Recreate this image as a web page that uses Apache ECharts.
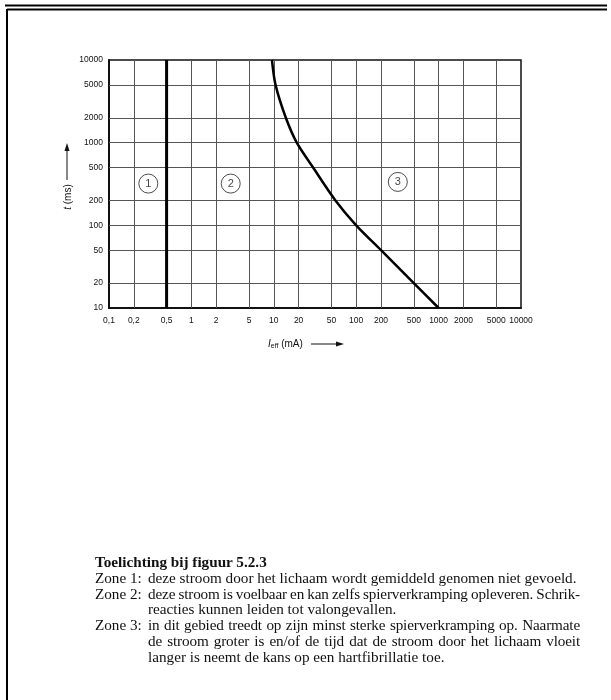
<!DOCTYPE html>
<html>
<head>
<meta charset="utf-8">
<script src="https://cdn.jsdelivr.net/npm/echarts@6/dist/echarts.min.js"></script>
<style>
  html, body { margin: 0; padding: 0; background: #fff; }
  #chart { position: absolute; left: 0; top: 0; width: 611px; height: 700px; }
  #notes { position: absolute; left: 95px; top: 554px; width: 485px;
           font-family: 'Liberation Serif', 'DejaVu Serif', serif; font-size: 15.2px;
           line-height: 15.8px; color: #111; }
  #notes .title { font-weight: bold; }
  #notes .row { display: flex; }
  #notes .lab { width: 53px; flex: none; white-space: nowrap; }
  #notes .txt { flex: 1; min-width: 0; }
  #notes .j { text-align: justify; text-align-last: justify; word-spacing: -4px; letter-spacing: -0.15px; }
  #notes .l { text-align: left; white-space: nowrap; }
</style>
</head>
<body>
<div id="chart"></div>
<div id="notes">
  <div class="title">Toelichting bij figuur 5.2.3</div>
  <div class="row"><div class="lab">Zone 1:</div><div class="txt"><div class="l">deze stroom door het lichaam wordt gemiddeld genomen niet gevoeld.</div></div></div>
  <div class="row"><div class="lab">Zone 2:</div><div class="txt"><div class="j">deze stroom is voelbaar en kan zelfs spierverkramping opleveren. Schrik-</div><div class="l">reacties kunnen leiden tot valongevallen.</div></div></div>
  <div class="row"><div class="lab">Zone 3:</div><div class="txt"><div class="j">in dit gebied treedt op zijn minst sterke spierverkramping op. Naarmate</div><div class="j">de stroom groter is en/of de tijd dat de stroom door het lichaam vloeit</div><div class="l">langer is neemt de kans op een hartfibrillatie toe.</div></div></div>
</div>
<script>
// ---- data ----
var xTicks = [0.1, 0.2, 0.5, 1, 2, 5, 10, 20, 50, 100, 200, 500, 1000, 2000, 5000, 10000];
var yTicks = [10, 20, 50, 100, 200, 500, 1000, 2000, 5000, 10000];
var zone1Boundary = [[0.5, 10], [0.5, 10000]];
var zone3BoundaryX = [9.5, 10.5, 14, 19, 30, 56, 100, 200, 500, 1000];
var zone3BoundaryY = [10000, 5000, 2000, 1000, 500, 200, 100, 50, 20, 10];
var zoneLabels = ['1', '2', '3'];
var zoneLabelX = [0.3, 3, 320];
var zoneLabelY = [320, 320, 335];

var curve = zone3BoundaryX.map(function (x, i) { return [x, zone3BoundaryY[i]]; });
var zones = zoneLabels.map(function (z, i) { return [zoneLabelX[i], zoneLabelY[i], z]; });

function fmt(v) {
  var s = String(Math.round(v * 10) / 10);
  return s.replace('.', ',');
}

var chart = echarts.init(document.getElementById('chart'), null, { renderer: 'canvas' });
var gridLineStyle = { color: '#555', width: 1, type: 'solid' };
var labelStyle = { fontFamily: 'Liberation Sans', fontSize: 8.5, color: '#111' };

chart.setOption({
  animation: false,
  backgroundColor: '#fff',
  grid: { left: 109, right: 90, top: 60, bottom: 392, show: true, borderColor: '#111', borderWidth: 1.5, backgroundColor: 'transparent' },
  xAxis: {
    type: 'log', logBase: 10, min: 0.1, max: 10000,
    axisLine: { show: true, lineStyle: { color: '#111', width: 2 } },
    axisTick: { show: false },
    splitLine: { show: false },
    minorSplitLine: { show: false },
    axisLabel: Object.assign({ customValues: xTicks, margin: 8, formatter: fmt, showMinLabel: true, showMaxLabel: true }, labelStyle)
  },
  yAxis: {
    type: 'log', logBase: 10, min: 10, max: 10000,
    axisLine: { show: true, lineStyle: { color: '#111', width: 2 } },
    axisTick: { show: false },
    splitLine: { show: false },
    axisLabel: Object.assign({ customValues: yTicks, margin: 6, formatter: fmt, showMinLabel: true, showMaxLabel: true }, labelStyle)
  },
  series: [
    {
      type: 'line', data: [], silent: true,
      markLine: {
        silent: true, symbol: 'none', label: { show: false },
        lineStyle: gridLineStyle,
        data: xTicks.slice(1, -1).map(function (v) { return { xAxis: v }; })
          .concat(yTicks.slice(1, -1).map(function (v) { return { yAxis: v }; }))
      }
    },
    {
      type: 'line', data: zone1Boundary, symbol: 'none',
      lineStyle: { color: '#000', width: 3 }, z: 5
    },
    {
      type: 'line', data: curve, symbol: 'none', smooth: 0.3,
      lineStyle: { color: '#000', width: 2.5 }, z: 5
    },
    {
      type: 'scatter', data: zones, symbol: 'circle', symbolSize: 19,
      itemStyle: { color: '#fff', borderColor: '#222', borderWidth: 1 },
      label: { show: true, position: 'inside', formatter: function (p) { return p.value[2]; },
               fontFamily: 'Liberation Sans', fontSize: 11, color: '#111' },
      z: 6
    }
  ],
  graphic: [
    { type: 'line', shape: { x1: 5, y1: 5.5, x2: 607, y2: 5.5 }, style: { stroke: '#000', lineWidth: 2 } },
    { type: 'line', shape: { x1: 7, y1: 9.5, x2: 607, y2: 9.5 }, style: { stroke: '#000', lineWidth: 2 } },
    { type: 'line', shape: { x1: 7, y1: 9, x2: 7, y2: 700 }, style: { stroke: '#000', lineWidth: 2 } },
    // y axis title
    { type: 'text', x: 68, y: 197, rotation: Math.PI / 2,
      style: { text: '{i|t} (ms)', rich: { i: { fontStyle: 'italic', fontFamily: 'Liberation Sans', fontSize: 10 } },
               fontFamily: 'Liberation Sans', fontSize: 10, fill: '#111', align: 'center', verticalAlign: 'middle' } },
    { type: 'line', shape: { x1: 67, y1: 180, x2: 67, y2: 150 }, style: { stroke: '#111', lineWidth: 1 } },
    { type: 'polygon', shape: { points: [[67, 143], [64.5, 151], [69.5, 151]] }, style: { fill: '#111' } },
    // x axis title
    { type: 'text', x: 268, y: 344,
      style: { text: '{i|I}{s|eff} (mA)', rich: { i: { fontStyle: 'italic', fontFamily: 'Liberation Sans', fontSize: 10 },
                                             s: { fontFamily: 'Liberation Sans', fontSize: 7, verticalAlign: 'bottom', padding: [5, 0, 0, 0] } },
               fontFamily: 'Liberation Sans', fontSize: 10, fill: '#111', align: 'left', verticalAlign: 'middle' } },
    { type: 'line', shape: { x1: 311, y1: 344, x2: 337, y2: 344 }, style: { stroke: '#111', lineWidth: 1 } },
    { type: 'polygon', shape: { points: [[344, 344], [336, 341.5], [336, 346.5]] }, style: { fill: '#111' } }
  ]
});
</script>
</body>
</html>
